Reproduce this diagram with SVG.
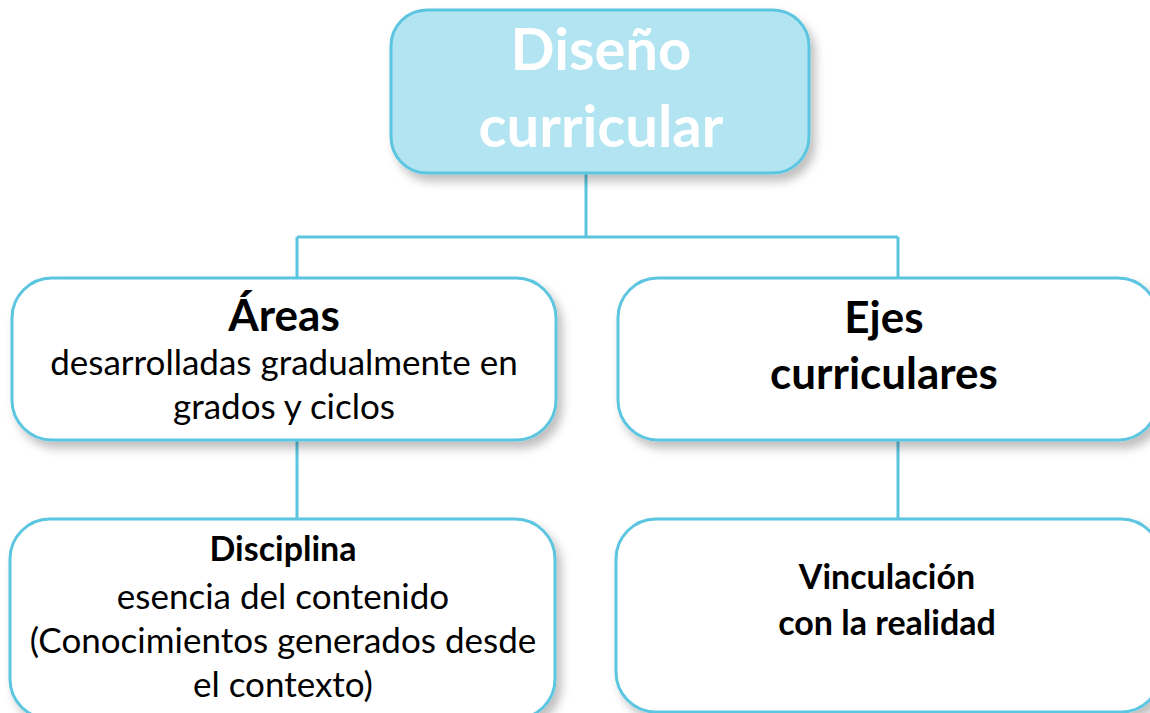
<svg xmlns="http://www.w3.org/2000/svg" width="1150" height="713" viewBox="0 0 1150 713">
<defs>
<filter id="sh" x="-10%" y="-10%" width="130%" height="140%">
<feDropShadow dx="5" dy="7" stdDeviation="5" flood-color="#000" flood-opacity="0.25"/>
</filter>
<style>
.box{fill:#fff;stroke:#5bc5e0;stroke-width:3;filter:url(#sh)}
.top{fill:#b2e4f1;stroke:#5bc5e0;stroke-width:3;filter:url(#sh)}
.ln{stroke:#5bc5e0;stroke-width:3;fill:none}
text{font-family:Lato,"Open Sans","Liberation Sans",sans-serif;text-anchor:middle;fill:#000}
.b{font-weight:bold}
.w{fill:#fff;font-weight:bold;font-size:58px}
.h{font-size:44px}
.r{font-size:35px}
.s{font-size:34px}
</style>
</defs>
<g id="connectors">
<path class="ln" d="M586 173V237M297 237H898M297 237V278M898 237V278M297 440V519M898 440V519"/>
</g>
<g id="n-diseno">
<rect class="top" x="391" y="10" width="418" height="163" rx="36"/>
<text class="w" x="601" y="70">Diseño</text>
<text class="w" x="601" y="147">curricular</text>
</g>
<g id="n-areas">
<rect class="box" x="12" y="278" width="544" height="162" rx="40"/>
<text class="b h" x="284" y="331">Áreas</text>
<text class="r" x="284" y="375">desarrolladas gradualmente en</text>
<text class="r" x="284" y="419">grados y ciclos</text>
</g>
<g id="n-ejes">
<rect class="box" x="618" y="278" width="540" height="162" rx="40"/>
<text class="b h" x="884" y="333">Ejes</text>
<text class="b h" x="884" y="389">curriculares</text>
</g>
<g id="n-disciplina">
<rect class="box" x="10" y="519" width="545" height="200" rx="40"/>
<text class="b s" x="283" y="561">Disciplina</text>
<text class="r" x="283" y="609">esencia del contenido</text>
<text class="r" x="283" y="653">(Conocimientos generados desde</text>
<text class="r" x="283" y="697">el contexto)</text>
</g>
<g id="n-vinculacion">
<rect class="box" x="616" y="519" width="545" height="193" rx="40"/>
<text class="b s" x="887" y="589">Vinculación</text>
<text class="b s" x="887" y="635">con la realidad</text>
</g>
</svg>
